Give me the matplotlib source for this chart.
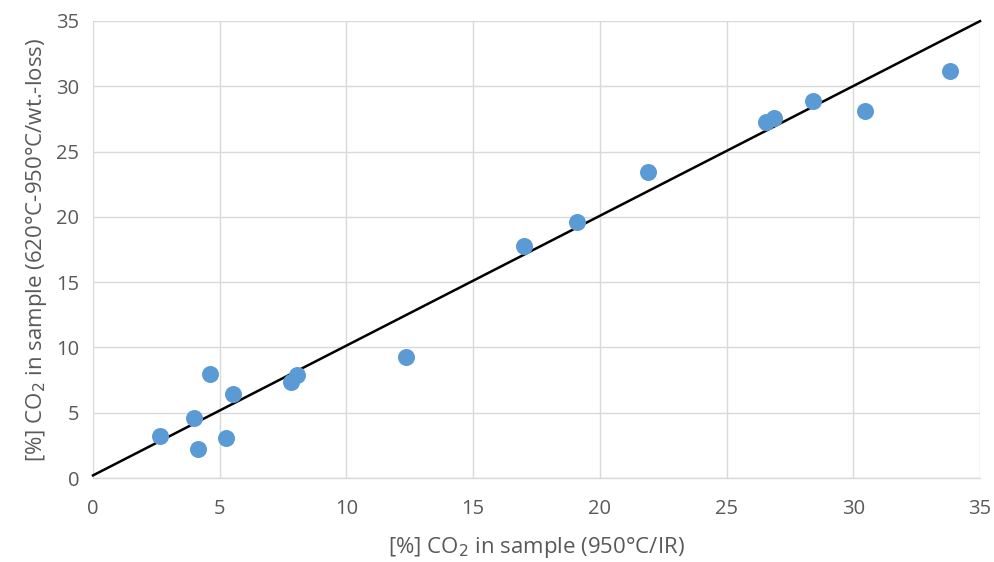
import matplotlib
matplotlib.use("Agg")
import matplotlib.pyplot as plt
import numpy as np

x_ir = [2.64, 3.99, 4.14, 4.62, 5.25, 5.52, 7.81, 8.05, 12.35, 17.0, 19.1, 21.9, 26.56, 26.87, 28.4, 30.47, 33.8]
y_wt = [3.2, 4.6, 2.2, 8.0, 3.1, 6.4, 7.35, 7.9, 9.3, 17.8, 19.6, 23.4, 27.3, 27.6, 28.9, 28.1, 31.2]
fit_intercept = 0.2
fit_slope = 0.994
ticks = [0, 5, 10, 15, 20, 25, 30, 35]

plt.rcParams['font.family'] = ['Open Sans', 'DejaVu Sans']
fig = plt.figure(figsize=(9.95, 5.62), dpi=100)
ax = fig.add_axes([93/995, 84/562, 887/995, 457/562])

ax.set_xlim(0, 35)
ax.set_ylim(0, 35)
ax.set_xticks(ticks)
ax.set_yticks(ticks)
ax.grid(True, color='#d9d9d9', linewidth=1.0)
ax.set_axisbelow(True)
for s in ['top', 'right', 'left']:
    ax.spines[s].set_visible(False)
ax.spines['bottom'].set_color('#d9d9d9')
ax.spines['bottom'].set_linewidth(1.0)
ax.tick_params(length=0, labelsize=14.5, labelcolor='#595959')
ax.tick_params(axis='y', pad=10)
ax.tick_params(axis='x', pad=15)

xl = np.array([0, 35])
ax.plot(xl, fit_intercept + fit_slope * xl, color='black', linewidth=1.8, zorder=2, clip_on=False)
ax.scatter(x_ir, y_wt, s=150, color='#5B9BD5', zorder=3, linewidths=0)

ax.set_xlabel('[%] CO$_2$ in sample (950°C/IR)', fontsize=16, color='#595959', labelpad=12)
ax.set_ylabel('[%] CO$_2$ in sample (620°C-950°C/wt.-loss)', fontsize=16, color='#595959', labelpad=5)

fig.savefig('out.png', dpi=100)
